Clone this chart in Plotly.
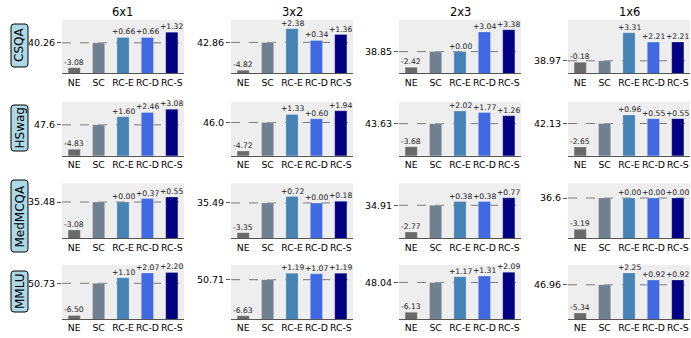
import math
import plotly.graph_objects as go

# ---------------- data ----------------
datasets = ["CSQA", "HSwag", "MedMCQA", "MMLU"]
configs = ["6x1", "3x2", "2x3", "1x6"]
methods = ["NE", "SC", "RC-E", "RC-D", "RC-S"]
method_colors = ["#696969", "#708090", "#4682B4", "#4169E1", "#000080"]

sc_values = [
    [40.26, 42.86, 38.85, 38.97],
    [47.6, 46.0, 43.63, 42.13],
    [35.48, 35.49, 34.91, 36.6],
    [50.73, 50.71, 48.04, 46.96],
]
sc_labels = [
    ["40.26", "42.86", "38.85", "38.97"],
    ["47.6", "46.0", "43.63", "42.13"],
    ["35.48", "35.49", "34.91", "36.6"],
    ["50.73", "50.71", "48.04", "46.96"],
]
ne_delta = [
    [-3.08, -4.82, -2.42, -0.18],
    [-4.83, -4.72, -3.68, -2.65],
    [-3.08, -3.35, -2.77, -3.19],
    [-6.50, -6.63, -6.13, -5.34],
]
rce_delta = [
    [0.66, 2.38, 0.00, 3.31],
    [1.60, 1.33, 2.02, 0.96],
    [0.00, 0.72, 0.38, 0.00],
    [1.10, 1.19, 1.17, 2.25],
]
rcd_delta = [
    [0.66, 0.34, 3.04, 2.21],
    [2.46, 0.60, 1.77, 0.55],
    [0.37, 0.00, 0.38, 0.00],
    [2.07, 1.07, 1.31, 0.92],
]
rcs_delta = [
    [1.32, 1.36, 3.38, 2.21],
    [3.08, 1.94, 1.26, 0.55],
    [0.55, 0.18, 0.77, 0.00],
    [2.20, 1.19, 2.09, 0.92],
]

# ---------------- layout geometry (pixels) ----------------
W, H = 691, 338
col_left = [62, 231, 399, 568]
col_width = 122
row_top = [20, 101.7, 183.3, 265]
row_bottom = [73.3, 155.7, 238.3, 319]
label_boxes = [(24, 67), (105, 151), (180, 252), (271, 312)]  # y extents of row-label boxes
FONT = "DejaVu Sans"


def px_x(x):
    return x / W


def px_y(y):
    return 1 - y / H


fig = go.Figure()
layout = dict(
    width=W, height=H, margin=dict(l=0, r=0, t=0, b=0),
    paper_bgcolor="white", plot_bgcolor="#EEEEEE",
    showlegend=False, font=dict(family=FONT, size=9, color="black"),
    bargap=0.5,
)
annotations = []
shapes = []

for r in range(4):
    for c in range(4):
        idx = r * 4 + c + 1
        xa = "x" if idx == 1 else f"x{idx}"
        ya = "y" if idx == 1 else f"y{idx}"
        sc = sc_values[r][c]
        deltas = [ne_delta[r][c], 0.0, rce_delta[r][c], rcd_delta[r][c], rcs_delta[r][c]]
        vals = [sc + d for d in deltas]
        lo = math.floor(min(vals)) - 0.5
        hi = max(vals) + 1.5

        fig.add_trace(go.Bar(
            x=methods, y=vals, xaxis=xa, yaxis=ya,
            marker=dict(color=method_colors, line=dict(color="rgba(255,255,255,0.5)", width=0.5)),
            width=0.5, hoverinfo="skip",
        ))

        xkey = "xaxis" if idx == 1 else f"xaxis{idx}"
        ykey = "yaxis" if idx == 1 else f"yaxis{idx}"
        layout[xkey] = dict(
            domain=[px_x(col_left[c]), px_x(col_left[c] + col_width)],
            anchor=ya, type="category", range=[-0.5, 4.5],
            showline=True, linecolor="#555555", linewidth=1.2,
            ticks="", tickangle=0, tickfont=dict(size=9.3, family=FONT, color="black"),
            showgrid=False, zeroline=False, fixedrange=True,
        )
        layout[ykey] = dict(
            domain=[px_y(row_bottom[r]), px_y(row_top[r])],
            anchor=xa, range=[lo, hi],
            tickvals=[sc], ticktext=[sc_labels[r][c]],
            ticks="outside", ticklen=4, tickcolor="#555555", tickwidth=1,
            tickfont=dict(size=9.5, family=FONT, color="black"),
            showgrid=False, zeroline=False, showline=False, fixedrange=True,
        )

        # dashed reference line at SC value (behind bars)
        shapes.append(dict(
            type="line", xref=f"{xa} domain", yref=ya, x0=0, x1=1, y0=sc, y1=sc,
            line=dict(color="#7a7a7a", width=1, dash="dash"), layer="below",
        ))

        # value labels
        for i, m in enumerate(methods):
            if m == "SC":
                continue
            d = deltas[i]
            txt = f"{d:+.2f}"
            annotations.append(dict(
                x=m, y=vals[i], xref=xa, yref=ya, text=txt, showarrow=False,
                yanchor="bottom", yshift=0, borderpad=0,
                font=dict(size=7.6, family=FONT, color="#222222"),
            ))

        # column titles
        if r == 0:
            annotations.append(dict(
                x=px_x(col_left[c] + col_width / 2), y=px_y(11.5), xref="paper", yref="paper",
                text=configs[c], showarrow=False, xanchor="center", yanchor="middle",
                borderpad=0, font=dict(size=11.5, family=FONT, color="black"),
            ))

# row labels with rounded boxes
bx0, bx1, rad = 11, 28, 3
for r in range(4):
    y0, y1 = label_boxes[r]
    pts = [
        (bx0 + rad, y0), (bx1 - rad, y0), (bx1, y0), (bx1, y0 + rad),
        (bx1, y1 - rad), (bx1, y1), (bx1 - rad, y1),
        (bx0 + rad, y1), (bx0, y1), (bx0, y1 - rad),
        (bx0, y0 + rad), (bx0, y0), (bx0 + rad, y0),
    ]
    P = [(px_x(a), px_y(b)) for a, b in pts]
    path = (f"M {P[0][0]},{P[0][1]} L {P[1][0]},{P[1][1]} Q {P[2][0]},{P[2][1]} {P[3][0]},{P[3][1]} "
            f"L {P[4][0]},{P[4][1]} Q {P[5][0]},{P[5][1]} {P[6][0]},{P[6][1]} "
            f"L {P[7][0]},{P[7][1]} Q {P[8][0]},{P[8][1]} {P[9][0]},{P[9][1]} "
            f"L {P[10][0]},{P[10][1]} Q {P[11][0]},{P[11][1]} {P[12][0]},{P[12][1]} Z")
    shapes.append(dict(type="path", xref="paper", yref="paper", path=path,
                       fillcolor="#ADD8E6", line=dict(color="black", width=1), layer="above"))
    annotations.append(dict(
        x=px_x((bx0 + bx1) / 2), y=px_y((y0 + y1) / 2), xref="paper", yref="paper",
        text=datasets[r], textangle=-90, showarrow=False, xanchor="center", yanchor="middle",
        font=dict(size=12, family=FONT, color="black"),
    ))

layout["annotations"] = annotations
layout["shapes"] = shapes
fig.update_layout(**layout)
fig.write_html("out.html")
